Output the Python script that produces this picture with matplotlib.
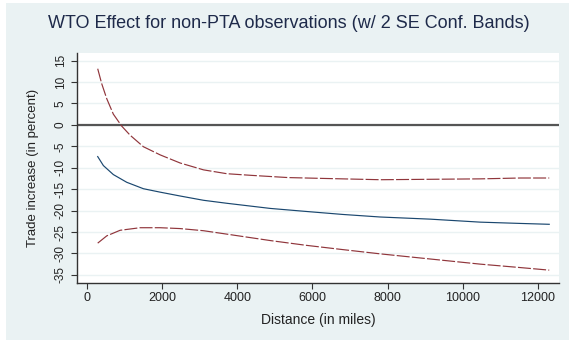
import matplotlib
matplotlib.use("Agg")
import matplotlib.pyplot as plt
from matplotlib.patches import Rectangle

# Data
dist = [284, 435, 700, 1057, 1500, 1945, 2478, 3100, 3722, 4879, 5825, 6800, 7803, 9134, 10466, 11531, 12300]
effect = [-7.4, -9.5, -11.6, -13.4, -14.9, -15.7, -16.6, -17.6, -18.3, -19.5, -20.2, -20.9, -21.5, -22.0, -22.7, -23.0, -23.2]

dist_up = [284, 391, 525, 700, 924, 1145, 1500, 1945, 2478, 3100, 3722, 4406, 5352, 6298, 7803, 9134, 10466, 11531, 12300]
upper = [13.1, 9.6, 6.1, 2.5, -0.3, -2.4, -5.1, -7.0, -8.9, -10.5, -11.4, -11.8, -12.3, -12.5, -12.8, -12.7, -12.6, -12.4, -12.4]

dist_lo = [284, 525, 880, 1412, 1945, 2478, 3100, 3722, 4879, 5825, 6800, 7803, 9134, 10466, 11531, 12300]
lower = [-27.6, -25.9, -24.6, -24.0, -24.0, -24.2, -24.7, -25.5, -27.0, -28.1, -29.1, -30.1, -31.3, -32.5, -33.3, -33.9]

xticks = [0, 2000, 4000, 6000, 8000, 10000, 12000]
yticks = [-35, -30, -25, -20, -15, -10, -5, 0, 5, 10, 15]

plt.rcParams['font.family'] = ['Liberation Sans', 'DejaVu Sans']

BG = '#eaf2f3'
fig = plt.figure(figsize=(5.69, 3.41), dpi=100)
fig.patch.set_facecolor('white')
fig.patches.append(Rectangle((6/569, 1/341), 1 - 6/569, 1 - 4/341, transform=fig.transFigure,
                             facecolor=BG, edgecolor='none', zorder=-10))

ax = fig.add_axes([76.7/569, (341-283)/341, (559-76.7)/569, (283-53.3)/341])
ax.set_facecolor('white')
for s in ['top', 'right']:
    ax.spines[s].set_visible(False)
for s in ['left', 'bottom']:
    ax.spines[s].set_color('#333333')
    ax.spines[s].set_linewidth(1.0)

ax.set_xlim(-275, 12560)
ax.set_ylim(-36.9, 16.7)
ax.set_xticks(xticks)
ax.set_yticks(yticks)
ax.set_yticklabels([str(v) for v in yticks], rotation=90, va='center')
ax.tick_params(axis='both', colors='#333333', labelcolor='#222222', length=4, width=0.8)
ax.tick_params(axis='x', labelsize=9, pad=2.5)
ax.tick_params(axis='y', labelsize=8.5, pad=3)
ax.grid(axis='y', color=BG, linewidth=1.0)
ax.set_axisbelow(True)

ax.axhline(0, color='#555555', linewidth=1.6, zorder=2)
ax.plot(dist, effect, color='#1a476f', linewidth=0.85, zorder=3)
ax.plot(dist_up, upper, color='#90353b', linewidth=0.85, dashes=(11, 1.9), zorder=3)
ax.plot(dist_lo, lower, color='#90353b', linewidth=0.85, dashes=(11, 1.9), zorder=3)

ax.set_xlabel('Distance (in miles)', fontsize=10, color='#222222')
ax.set_ylabel('Trade increase (in percent)', fontsize=9.5, color='#222222')
ax.xaxis.set_label_coords(0.5, (283 - 320) / 229.7)
ax.xaxis.label.set_va('center')
ax.yaxis.set_label_coords((33 - 76.7) / 482.3, 0.5)
ax.yaxis.label.set_va('center')

fig.text(289/569, 1 - 24/341, 'WTO Effect for non-PTA observations (w/ 2 SE Conf. Bands)',
         ha='center', va='center', fontsize=13, color='#1e2a4a')

fig.savefig('out.png', dpi=100, facecolor=fig.get_facecolor())
